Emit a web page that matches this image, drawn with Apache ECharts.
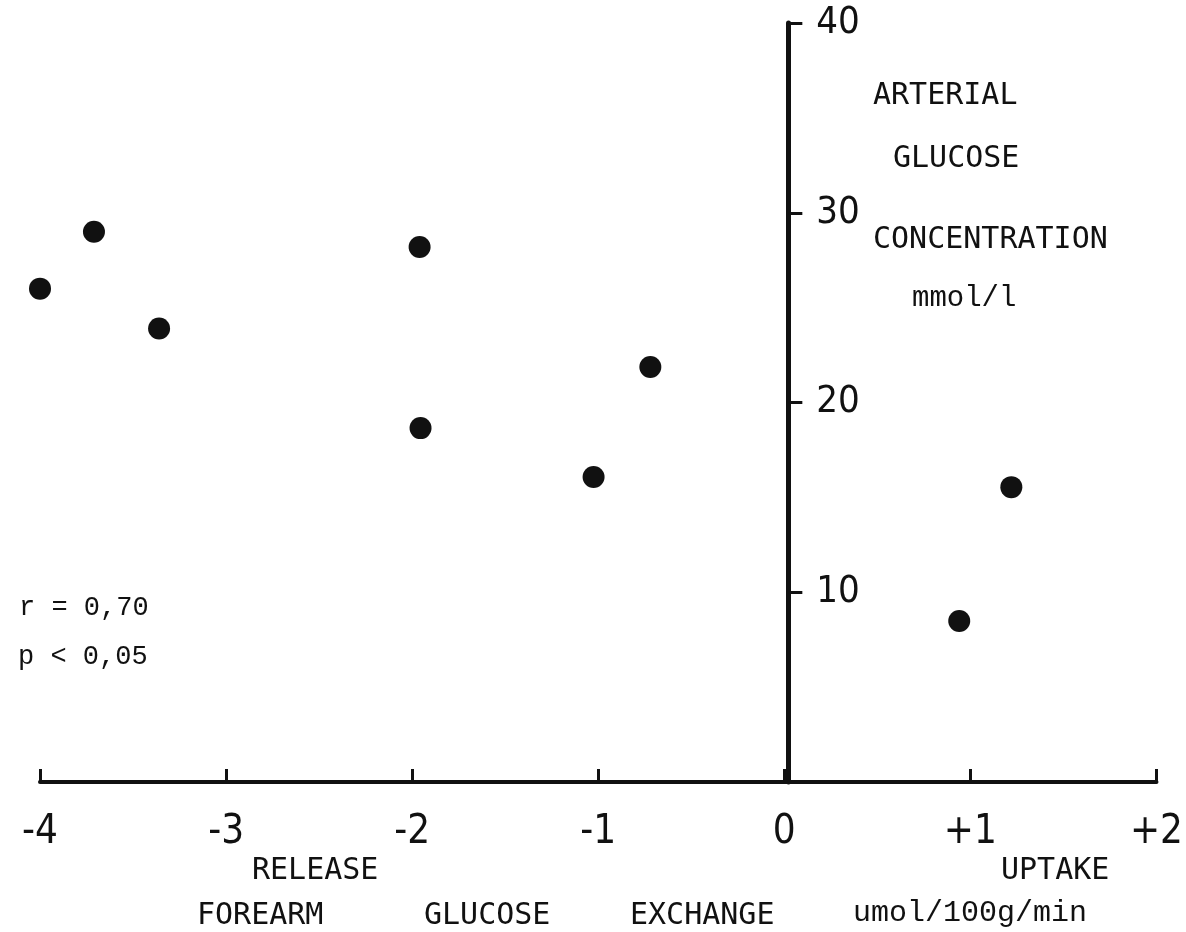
<!DOCTYPE html>
<html>
<head>
<meta charset="utf-8">
<script src="https://cdn.jsdelivr.net/npm/echarts@6/dist/echarts.min.js"></script>
<style>
html,body{margin:0;padding:0;background:#fff;}
#chart{width:1186px;height:932px;}
</style>
</head>
<body>
<div id="chart"></div>
<script>
// Forearm glucose exchange (umol/100g/min): negative = release, positive = uptake
const glucoseExchange = [-4.00, -3.71, -3.36, -1.96, -1.955, -1.025, -0.72, 1.22, 0.94];
// Arterial glucose concentration (mmol/l)
const arterialGlucose = [26.0, 29.0, 23.9, 28.2, 18.65, 16.07, 21.87, 15.54, 8.48];
// Tick labels
const xTickValues = [-4, -3, -2, -1, 0, 1, 2];
const xTickLabels = ['-4', '-3', '-2', '-1', '0', '+1', '+2'];
const yTickValues = [10, 20, 30, 40];
const yTickLabels = ['10', '20', '30', '40'];

const points = glucoseExchange.map((x, i) => [x, arterialGlucose[i]]);

const axisFont = '"Liberation Sans Narrow", "DejaVu Sans Condensed", "Roboto Condensed", sans-serif';
const sansMono = '"DejaVu Sans Mono", monospace';
const typewriter = '"Liberation Mono", "Courier New", monospace';

const GRID_LEFT = 40, GRID_RIGHT = 23.5;
const chartWidth = 1186;
const xMin = -4, xMax = 2;
// place the y axis at x = 0 of the x scale
const yAxisOffset = -((0 - xMin) / (xMax - xMin)) * (chartWidth - GRID_LEFT - GRID_RIGHT);

const chart = echarts.init(document.getElementById('chart'), null, {renderer: 'canvas'});

function txt(text, x, y, font) {
  return {
    type: 'text', x: x, y: y, silent: true,
    style: {text: text, font: font, fill: '#111', verticalAlign: 'middle', align: 'left'}
  };
}

chart.setOption({
  backgroundColor: '#fff',
  animation: false,
  grid: {left: GRID_LEFT, right: GRID_RIGHT, top: 23, bottom: 150, containLabel: false},
  xAxis: {
    type: 'value', min: xMin, max: xMax, interval: 1,
    splitLine: {show: false},
    axisLine: {show: true, onZero: false, lineStyle: {color: '#111', width: 4}},
    axisTick: {show: true, inside: true, length: 13, lineStyle: {color: '#111', width: 3}},
    axisLabel: {
      show: true, margin: 31, color: '#111', fontSize: 40, fontFamily: axisFont,
      formatter: function (v) { const i = xTickValues.indexOf(v); return i >= 0 ? xTickLabels[i] : ''; }
    }
  },
  yAxis: {
    type: 'value', min: 0, max: 40, interval: 10,
    position: 'left',
    offset: yAxisOffset,
    splitLine: {show: false},
    axisLine: {show: true, onZero: false, lineStyle: {color: '#111', width: 5}},
    axisTick: {show: true, inside: true, length: 14, lineStyle: {color: '#111', width: 3}},
    axisLabel: {
      show: true, inside: true, margin: 28, color: '#111', fontSize: 38, fontFamily: axisFont,
      showMinLabel: false, verticalAlign: 'middle', padding: [6, 0, 0, 0],
      formatter: function (v) { const i = yTickValues.indexOf(v); return i >= 0 ? yTickLabels[i] : ''; }
    }
  },
  series: [{
    type: 'scatter',
    data: points,
    symbol: 'circle',
    symbolSize: 22,
    itemStyle: {color: '#111', opacity: 1},
    silent: true
  }],
  graphic: [
    txt('ARTERIAL', 873, 96, '30px ' + sansMono),
    txt('GLUCOSE', 893, 159, '30px ' + sansMono),
    txt('CONCENTRATION', 873, 240, '30px ' + sansMono),
    txt('mmol/l', 912, 298, '29px ' + typewriter),
    txt('r = 0,70', 19, 608, '27px ' + typewriter),
    txt('p < 0,05', 18, 657, '27px ' + typewriter),
    txt('RELEASE', 252, 871, '30px ' + sansMono),
    txt('UPTAKE', 1001, 871, '30px ' + sansMono),
    txt('FOREARM', 197, 916, '30px ' + sansMono),
    txt('GLUCOSE', 424, 916, '30px ' + sansMono),
    txt('EXCHANGE', 630, 916, '30px ' + sansMono),
    txt('umol/100g/min', 853, 913, '30px ' + typewriter)
  ]
});
</script>
</body>
</html>
